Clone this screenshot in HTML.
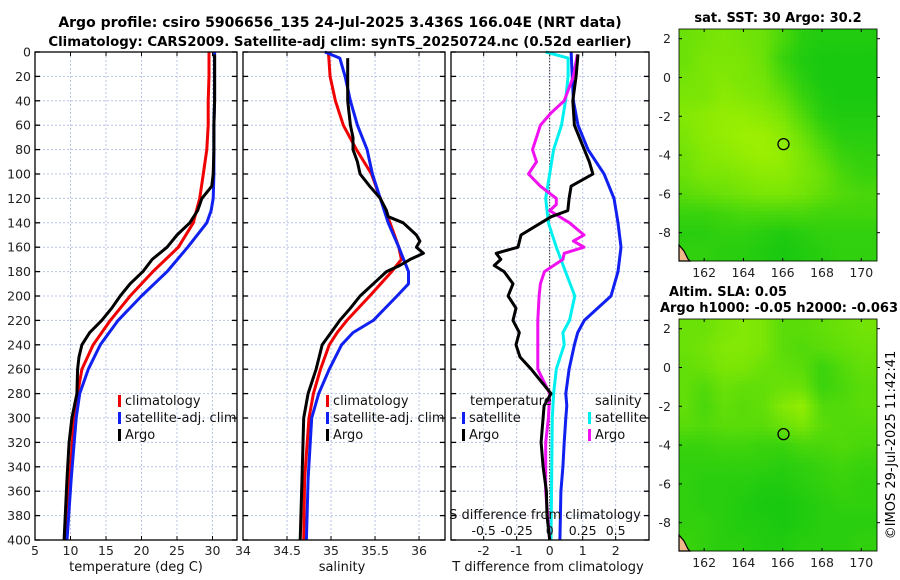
<!DOCTYPE html>
<html><head><meta charset="utf-8">
<style>
html,body{margin:0;padding:0;background:#fff;}
svg{display:block;font-family:"DejaVu Sans","Liberation Sans",sans-serif;}
</style></head>
<body>
<svg id="chart" width="900" height="580" viewBox="0 0 900 580" xmlns="http://www.w3.org/2000/svg">
<text x="340" y="27" font-size="14" font-weight="bold" text-anchor="middle">Argo profile: csiro 5906656_135 24-Jul-2025 3.436S 166.04E (NRT data)</text>
<text x="340" y="46" font-size="13.3" font-weight="bold" text-anchor="middle">Climatology: CARS2009. Satellite-adj clim: synTS_20250724.nc (0.52d earlier)</text>
<g id="g1"></g>
<g id="g2"></g>
<g id="g3"></g>
<g id="m1"></g>
<g id="m2"></g>
<text x="778" y="22" font-size="13" font-weight="bold" text-anchor="middle">sat. SST: 30 Argo: 30.2</text>
<text x="728" y="296" font-size="13" font-weight="bold" text-anchor="middle">Altim. SLA: 0.05</text>
<text x="779" y="312" font-size="13" font-weight="bold" text-anchor="middle">Argo h1000: -0.05 h2000: -0.063</text>
<text transform="translate(895,445) rotate(-90)" font-size="13" text-anchor="middle">©IMOS 29-Jul-2025 11:42:41</text>
</svg>
<script>
// ---- depth axis ----
const depthTicks = [0,20,40,60,80,100,120,140,160,180,200,220,240,260,280,300,320,340,360,380,400];
// ---- temperature panel data ----
const tClimDepth = [0,20,40,60,80,100,120,140,160,180,200,220,240,260,280,300,350,400];
const tClimVal   = [29.5,29.5,29.4,29.4,29.2,28.7,28.2,27.3,25.2,21.6,18.4,15.6,13.2,11.6,11.0,10.5,9.9,9.4];
const tSatDepth  = [0,20,40,60,80,100,120,130,140,160,180,200,220,240,260,280,300,350,400];
const tSatVal    = [30.3,30.3,30.3,30.2,30.2,30.2,30.1,29.8,29.2,26.5,23.6,20.0,16.7,14.2,12.5,11.3,10.8,10.1,9.5];
const tArgoDepth = [2,20,40,60,80,100,110,120,130,140,150,160,170,180,190,200,210,220,230,240,250,260,280,300,320,350,400];
const tArgoVal   = [30.3,30.3,30.3,30.2,30.2,30.1,29.9,28.5,27.9,26.8,25.0,23.6,21.5,20.2,18.4,17.0,15.8,14.4,12.7,11.6,11.2,11.0,10.9,10.2,9.8,9.5,9.1];
const tTicks = [5,10,15,20,25,30];
// ---- salinity panel data ----
const sClimDepth = [0,20,40,60,80,100,120,140,160,170,180,200,220,230,240,260,280,300,350,400];
const sClimVal   = [34.97,34.99,35.05,35.14,35.29,35.46,35.56,35.67,35.77,35.80,35.69,35.44,35.18,35.07,34.98,34.88,34.80,34.75,34.70,34.69];
const sSatDepth  = [0,5,20,40,60,80,100,120,140,160,180,190,200,220,230,240,260,280,300,350,400];
const sSatVal    = [34.93,35.10,35.16,35.22,35.30,35.41,35.47,35.56,35.65,35.77,35.88,35.88,35.75,35.48,35.25,35.12,34.98,34.86,34.78,34.74,34.72];
const sArgoDepth = [5,20,40,60,70,80,90,100,110,120,130,135,140,150,155,160,165,170,175,180,190,200,210,220,230,240,260,280,300,350,400];
const sArgoVal   = [35.19,35.19,35.19,35.22,35.25,35.25,35.30,35.33,35.44,35.56,35.63,35.65,35.82,35.97,36.01,35.97,36.05,35.90,35.78,35.63,35.48,35.33,35.22,35.10,35.00,34.90,34.83,34.74,34.69,34.67,34.65];
const sTicks = [34,34.5,35,35.5,36];
// ---- difference panel data ----
const dTSatDepth = [0,40,60,80,100,120,140,160,180,200,220,230,240,260,280,290,300,320,340,360,400];
const dTSatVal   = [0.65,0.72,0.86,1.16,1.65,1.95,2.07,2.16,2.07,1.86,1.05,0.85,0.75,0.59,0.49,0.52,0.49,0.44,0.40,0.34,0.31];
const dTArgoDepth = [2,20,40,60,80,90,100,110,120,130,135,140,150,160,165,170,175,180,190,200,210,220,230,240,250,260,270,280,290,300,320,340,360,380,400];
const dTArgoVal   = [0.86,0.80,0.70,0.75,1.05,1.20,1.31,0.65,0.59,0.55,0.05,-0.26,-0.87,-0.96,-1.62,-1.48,-1.68,-1.38,-1.11,-1.26,-1.02,-1.11,-0.92,-1.02,-0.90,-0.56,-0.26,0.04,-0.17,-0.20,-0.26,-0.20,-0.10,-0.08,0.0];
const dSArgoDepth = [2,20,40,50,60,70,80,90,100,110,120,125,130,140,150,155,160,165,170,180,190,200,220,240,260,280,300,320,360,400];
const dSArgoVal   = [0.21,0.18,0.11,0.01,-0.07,-0.10,-0.13,-0.10,-0.16,-0.07,0.05,0.05,0.0,0.15,0.26,0.18,0.26,0.11,0.10,-0.04,-0.07,-0.08,-0.09,-0.09,-0.09,0.0,-0.01,-0.03,-0.03,0.0];
const dSSatDepth = [0,5,20,40,60,80,100,120,140,160,180,200,220,230,240,260,280,300,400];
const dSSatVal   = [-0.03,0.14,0.14,0.12,0.09,0.03,0.0,-0.03,-0.01,0.05,0.12,0.19,0.15,0.10,0.11,0.05,0.03,0.02,0.01];
const dTTicks = [-2,-1,0,1,2];
const dSTicks = [-0.5,-0.25,0,0.25,0.5];
const dSTickLabels = ["-0.5","-0.25","0","0.25","0.5"];
// ---- map data (rows: lat 2 .. -9, cols: lon 161 .. 170) ----
const mapLons = [161,162,163,164,165,166,167,168,169,170];
const mapLats = [2,1,0,-1,-2,-3,-4,-5,-6,-7,-8,-9];
const sstGrid = [
[0.6,0.65,0.7,0.65,0.6,0.4,0.2,0.15,0.15,0.15],
[0.6,0.7,0.7,0.7,0.6,0.3,0.15,0.1,0.1,0.1],
[0.65,0.7,0.75,0.7,0.65,0.4,0.2,0.1,0.1,0.1],
[0.7,0.7,0.8,0.75,0.7,0.55,0.3,0.15,0.1,0.1],
[0.75,0.8,0.85,0.85,0.8,0.7,0.45,0.2,0.15,0.15],
[0.7,0.8,0.85,0.9,0.9,0.8,0.6,0.35,0.2,0.2],
[0.65,0.75,0.8,0.85,0.9,0.85,0.7,0.5,0.3,0.25],
[0.6,0.7,0.7,0.75,0.8,0.8,0.7,0.6,0.4,0.3],
[0.5,0.55,0.6,0.65,0.7,0.7,0.65,0.55,0.45,0.4],
[0.3,0.3,0.35,0.4,0.4,0.4,0.4,0.35,0.35,0.35],
[0.2,0.2,0.25,0.25,0.2,0.15,0.2,0.25,0.25,0.25],
[0.25,0.25,0.2,0.2,0.15,0.1,0.15,0.2,0.25,0.25]];
const slaGrid = [
[0.6,0.6,0.7,0.75,0.7,0.5,0.5,0.55,0.6,0.65],
[0.6,0.65,0.75,0.75,0.7,0.5,0.45,0.5,0.55,0.6],
[0.55,0.6,0.7,0.7,0.6,0.55,0.5,0.3,0.45,0.55],
[0.55,0.45,0.6,0.55,0.55,0.6,0.6,0.3,0.4,0.5],
[0.55,0.4,0.55,0.5,0.55,0.75,0.85,0.45,0.45,0.5],
[0.5,0.45,0.5,0.5,0.5,0.6,0.7,0.5,0.45,0.45],
[0.3,0.3,0.35,0.35,0.3,0.3,0.4,0.4,0.45,0.4],
[0.25,0.25,0.25,0.25,0.25,0.2,0.25,0.3,0.35,0.3],
[0.25,0.2,0.2,0.2,0.15,0.15,0.2,0.25,0.3,0.25],
[0.25,0.2,0.2,0.15,0.1,0.1,0.15,0.2,0.25,0.25],
[0.25,0.25,0.2,0.15,0.15,0.1,0.15,0.2,0.2,0.2],
[0.3,0.25,0.2,0.2,0.15,0.15,0.2,0.2,0.2,0.25]];
const argoLon = 166.04, argoLat = -3.436;
const mapLonTicks = [162,164,166,168,170];
const mapLatTicks = [2,0,-2,-4,-6,-8];

const NS = "http://www.w3.org/2000/svg";
function mk(parent, tag, attrs, text){
  const e = document.createElementNS(NS, tag);
  for (const k in attrs) e.setAttribute(k, attrs[k]);
  if (text !== undefined) e.textContent = text;
  parent.appendChild(e);
  return e;
}
const PT = 52, PB = 540;
function yD(d){ return PT + d * (PB - PT) / 400; }

function panel(g, x0, x1, vmin, vmax, ticks, tickLabels, showY){
  const xs = v => x0 + (v - vmin) * (x1 - x0) / (vmax - vmin);
  depthTicks.forEach(d => {
    if (d === 0 || d === 400) return;
    const l = mk(g, 'line', {x1:x0, x2:x1, y1:yD(d), y2:yD(d), stroke:'#b8c4e8', 'stroke-width':1, 'stroke-dasharray':'2,2'});
    
    
  });
  ticks.forEach((t, i) => {
    const x = xs(t);
    const l = mk(g, 'line', {x1:x, x2:x, y1:PT, y2:PB, stroke:'#b8c4e8', 'stroke-width':1, 'stroke-dasharray':'2,2'});
    
    
    mk(g, 'line', {x1:x, x2:x, y1:PB, y2:PB-4, stroke:'#000'});
    mk(g, 'line', {x1:x, x2:x, y1:PT, y2:PT+4, stroke:'#000'});
    if (tickLabels) {
      const tl = mk(g, 'text', {x:x, y:PB+15, 'font-size':12.5, 'text-anchor':'middle', fill:'#222'}, tickLabels[i]);
      
      
    }
  });
  depthTicks.forEach(d => {
    mk(g, 'line', {x1:x0, x2:x0+5, y1:yD(d), y2:yD(d), stroke:'#000', 'stroke-width':1.3});
    mk(g, 'line', {x1:x1, x2:x1-5, y1:yD(d), y2:yD(d), stroke:'#000', 'stroke-width':1.3});
    if (showY) {
      const tl = mk(g, 'text', {x:x0-4, y:yD(d)+4.5, 'font-size':12.5, 'text-anchor':'end', fill:'#222'}, String(d));
      
      
    }
  });
  return xs;
}
function frame(g, x0, x1){
  const r = mk(g, 'rect', {x:x0, y:PT, width:x1-x0, height:PB-PT, fill:'none', stroke:'#000', 'stroke-width':1.3});
  
  
}
function series(g, xs, depths, vals, color, name){
  const pts = depths.map((d, i) => xs(vals[i]).toFixed(1) + ',' + yD(d).toFixed(1)).join(' ');
  const p = mk(g, 'polyline', {points:pts, fill:'none', stroke:color, 'stroke-width':3, 'stroke-linejoin':'round'});
  
  
}
function legendEntry(g, x, y, color, label, name){
  mk(g, 'rect', {x:x, y:y-10, width:3, height:12, fill:color});
  const t = mk(g, 'text', {x:x+7, y:y, 'font-size':13, fill:'#111'}, label);
  
  
}

// Panel 1
const g1 = document.getElementById('g1');
const xT = panel(g1, 35, 237, 5, 33.45, tTicks, tTicks.map(String), true);
series(g1, xT, tClimDepth, tClimVal, '#f00000', 'temp-climatology-line');
series(g1, xT, tSatDepth, tSatVal, '#1020f0', 'temp-satellite-line');
series(g1, xT, tArgoDepth, tArgoVal, '#000', 'temp-argo-line');
frame(g1, 35, 237);
legendEntry(g1, 118, 405, '#f00000', 'climatology', 'legend-climatology');
legendEntry(g1, 118, 422, '#1020f0', 'satellite-adj. clim', 'legend-satellite');
legendEntry(g1, 118, 439, '#000', 'Argo', 'legend-argo');
mk(g1, 'text', {x:136, y:571, 'font-size':13, 'text-anchor':'middle', fill:'#111'}, 'temperature (deg C)');

// Panel 2
const g2 = document.getElementById('g2');
const xS = panel(g2, 243, 445, 34, 36.295, sTicks, ['34','34.5','35','35.5','36'], false);
series(g2, xS, sClimDepth, sClimVal, '#f00000', 'sal-climatology-line');
series(g2, xS, sSatDepth, sSatVal, '#1020f0', 'sal-satellite-line');
series(g2, xS, sArgoDepth, sArgoVal, '#000', 'sal-argo-line');
frame(g2, 243, 445);
legendEntry(g2, 326, 405, '#f00000', 'climatology', 'legend-sal-climatology');
legendEntry(g2, 326, 422, '#1020f0', 'satellite-adj. clim', 'legend-sal-satellite');
legendEntry(g2, 326, 439, '#000', 'Argo', 'legend-sal-argo');
mk(g2, 'text', {x:342, y:571, 'font-size':13, 'text-anchor':'middle', fill:'#111'}, 'salinity');

// Panel 3
const g3 = document.getElementById('g3');
const X0 = 451, X1 = 649;
const xDT = panel(g3, X0, X1, -2.99, 3.01, dTTicks, dTTicks.map(String), false);
const xDS = v => X0 + (v - (-0.7475)) * (X1 - X0) / 1.5;
mk(g3, 'line', {x1:xDT(0), x2:xDT(0), y1:PT, y2:PB, stroke:'#333', 'stroke-width':1, 'stroke-dasharray':'1.5,1.5'});
series(g3, xDT, dTSatDepth, dTSatVal, '#1020f0', 'tdiff-satellite-line');
series(g3, xDS, dSSatDepth, dSSatVal, '#00f0f0', 'sdiff-satellite-line');
series(g3, xDS, dSArgoDepth, dSArgoVal, '#f010f0', 'sdiff-argo-line');
series(g3, xDT, dTArgoDepth, dTArgoVal, '#000', 'tdiff-argo-line');
frame(g3, X0, X1);
mk(g3, 'text', {x:470, y:405, 'font-size':13, fill:'#111'}, 'temperature');
legendEntry(g3, 462, 422, '#1020f0', 'satellite', 'legend-t-satellite');
legendEntry(g3, 462, 439, '#000', 'Argo', 'legend-t-argo');
mk(g3, 'text', {x:595, y:405, 'font-size':13, fill:'#111'}, 'salinity');
legendEntry(g3, 588, 422, '#00f0f0', 'satellite', 'legend-s-satellite');
legendEntry(g3, 588, 439, '#f010f0', 'Argo', 'legend-s-argo');
mk(g3, 'text', {x:545, y:519, 'font-size':13, 'text-anchor':'middle', fill:'#111'}, 'S difference from climatology');
dSTicks.forEach((t, i) => {
  const tl = mk(g3, 'text', {x:xDS(t), y:535, 'font-size':12.5, 'text-anchor':'middle', fill:'#111'}, dSTickLabels[i]);
  
  
});
mk(g3, 'text', {x:548, y:571, 'font-size':13, 'text-anchor':'middle', fill:'#111'}, 'T difference from climatology');

// Maps
function colorOf(v){
  const a = [8,196,18], b = [172,244,0];
  return 'rgb(' + a.map((c, i) => Math.round(c + (b[i]-c)*v)).join(',') + ')';
}
function drawMap(g, grid, top, bottom){
  const L = 679, R = 877, lonMin = 160.72, lonMax = 170.8, latMax = 2.5, latMin = -9.46;
  const xm = lon => L + (lon - lonMin) * (R - L) / (lonMax - lonMin);
  const ym = lat => top + (latMax - lat) * (bottom - top) / (latMax - latMin);
  const nC = 50, nR = 60;
  const cw = (R - L) / nC, ch = (bottom - top) / nR;
  for (let r = 0; r < nR; r++) {
    for (let c = 0; c < nC; c++) {
      const lon = lonMin + (c + 0.5) * (lonMax - lonMin) / nC;
      const lat = latMax - (r + 0.5) * (latMax - latMin) / nR;
      let fc = Math.min(Math.max(lon - mapLons[0], 0), mapLons.length - 1.001);
      let fr = Math.min(Math.max(mapLats[0] - lat, 0), mapLats.length - 1.001);
      const c0 = Math.floor(fc), r0 = Math.floor(fr), tx = fc - c0, ty = fr - r0;
      const v = grid[r0][c0]*(1-tx)*(1-ty) + grid[r0][c0+1]*tx*(1-ty) + grid[r0+1][c0]*(1-tx)*ty + grid[r0+1][c0+1]*tx*ty;
      const cell = mk(g, 'rect', {x:(L + c*cw).toFixed(2), y:(top + r*ch).toFixed(2), width:(cw+0.4).toFixed(2), height:(ch+0.4).toFixed(2), fill:colorOf(v)});
      
      
    }
  }
  mk(g, 'path', {d:`M${L},${bottom-16} L${L+5},${bottom-10} L${L+9},${bottom-2} L${L+11},${bottom} L${L},${bottom} Z`, fill:'#f0b888', stroke:'#000', 'stroke-width':1.2});
  const circ = mk(g, 'circle', {cx:xm(argoLon), cy:ym(argoLat), r:5.5, fill:'none', stroke:'#000', 'stroke-width':1.3});
  
  
  mk(g, 'rect', {x:L, y:top, width:R-L, height:bottom-top, fill:'none', stroke:'#000', 'stroke-width':0.8});
  mapLonTicks.forEach(t => {
    mk(g, 'line', {x1:xm(t), x2:xm(t), y1:bottom, y2:bottom-3, stroke:'#000'});
    mk(g, 'line', {x1:xm(t), x2:xm(t), y1:top, y2:top+3, stroke:'#000'});
    const tl = mk(g, 'text', {x:xm(t), y:bottom+16, 'font-size':12.5, 'text-anchor':'middle', fill:'#222'}, String(t));
    
    
  });
  mapLatTicks.forEach(t => {
    mk(g, 'line', {x1:L, x2:L+3, y1:ym(t), y2:ym(t), stroke:'#000'});
    mk(g, 'line', {x1:R, x2:R+3, y1:ym(t), y2:ym(t), stroke:'#000'});
    const tl = mk(g, 'text', {x:L-8, y:ym(t)+4.5, 'font-size':12.5, 'text-anchor':'end', fill:'#222'}, String(t));
    
    
  });
}
drawMap(document.getElementById('m1'), sstGrid, 29, 261);
drawMap(document.getElementById('m2'), slaGrid, 319, 551);
</script>
</body></html>
